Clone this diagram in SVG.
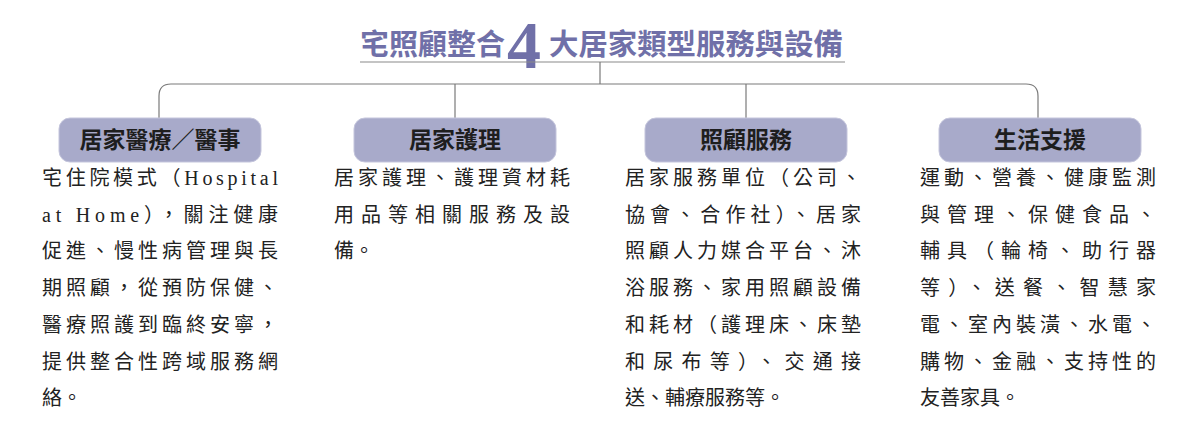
<svg xmlns="http://www.w3.org/2000/svg" width="1200" height="440" viewBox="0 0 1200 440">
<style>
.title{font-family:"Noto Sans CJK TC","Noto Sans CJK SC",sans-serif;font-size:29px;font-weight:700;fill:#7070a8}
.four{font-family:"Liberation Serif","DejaVu Serif",serif;font-size:68px;font-weight:700;fill:#7070a8}
.conn{fill:none;stroke:#7a7a7a;stroke-width:1.2}
.box{fill:#a8aaca;stroke:#c4c5dc;stroke-width:1}
.lbl{font-family:"Noto Sans CJK TC","Noto Sans CJK SC",sans-serif;font-size:23px;font-weight:700;fill:#1e1e1e;text-anchor:middle}
.body{font-family:"Liberation Serif","Noto Sans CJK TC","Noto Sans CJK SC",serif;font-size:20px;fill:#222}
</style>
<rect width="1200" height="440" fill="#ffffff"/>
<g id="title">
<text class="title" x="360" y="55" textLength="145" lengthAdjust="spacingAndGlyphs">宅照顧整合</text>
<text class="four" x="507" y="68">4</text>
<text class="title" x="549" y="55" textLength="294" lengthAdjust="spacingAndGlyphs">大居家類型服務與設備</text>
<line x1="360" y1="62" x2="845" y2="62" stroke="#8a8a8a" stroke-width="1.2"/>
</g>
<g id="connectors">
<path class="conn" d="M600 62 V84"/>
<path class="conn" d="M159 118 V96 Q159 84 171 84 H1026 Q1038 84 1038 96 V118"/>
<path class="conn" d="M455 84 V118"/>
<path class="conn" d="M746 84 V118"/>
</g>
<g id="node1">
<rect class="box" x="59" y="118" width="202" height="44" rx="11"/>
<text class="lbl" x="160" y="148">居家醫療／醫事</text>
<g class="body">
<text x="42" y="185" textLength="236" lengthAdjust="spacing">宅住院模式（Hospital</text>
<text x="42" y="221.7" textLength="236" lengthAdjust="spacing">at Home），關注健康</text>
<text x="42" y="258.4" textLength="236" lengthAdjust="spacing">促進、慢性病管理與長</text>
<text x="42" y="295.1" textLength="236" lengthAdjust="spacing">期照顧，從預防保健、</text>
<text x="42" y="331.8" textLength="236" lengthAdjust="spacing">醫療照護到臨終安寧，</text>
<text x="42" y="368.5" textLength="236" lengthAdjust="spacing">提供整合性跨域服務網</text>
<text x="42" y="405.2">絡。</text>
</g>
</g>
<g id="node2">
<rect class="box" x="354" y="118" width="202" height="44" rx="11"/>
<text class="lbl" x="455" y="148">居家護理</text>
<g class="body">
<text x="334" y="185" textLength="236" lengthAdjust="spacing">居家護理、護理資材耗</text>
<text x="334" y="221.7" textLength="236" lengthAdjust="spacing">用品等相關服務及設</text>
<text x="334" y="258.4">備。</text>
</g>
</g>
<g id="node3">
<rect class="box" x="645" y="118" width="202" height="44" rx="11"/>
<text class="lbl" x="746" y="148">照顧服務</text>
<g class="body">
<text x="625" y="185" textLength="236" lengthAdjust="spacing">居家服務單位（公司、</text>
<text x="625" y="221.7" textLength="236" lengthAdjust="spacing">協會、合作社）、居家</text>
<text x="625" y="258.4" textLength="236" lengthAdjust="spacing">照顧人力媒合平台、沐</text>
<text x="625" y="295.1" textLength="236" lengthAdjust="spacing">浴服務、家用照顧設備</text>
<text x="625" y="331.8" textLength="236" lengthAdjust="spacing">和耗材（護理床、床墊</text>
<text x="625" y="368.5" textLength="236" lengthAdjust="spacing">和尿布等）、交通接</text>
<text x="625" y="405.2">送、輔療服務等。</text>
</g>
</g>
<g id="node4">
<rect class="box" x="939" y="118" width="202" height="44" rx="11"/>
<text class="lbl" x="1040" y="148">生活支援</text>
<g class="body">
<text x="920" y="185" textLength="236" lengthAdjust="spacing">運動、營養、健康監測</text>
<text x="920" y="221.7" textLength="236" lengthAdjust="spacing">與管理、保健食品、</text>
<text x="920" y="258.4" textLength="236" lengthAdjust="spacing">輔具（輪椅、助行器</text>
<text x="920" y="295.1" textLength="236" lengthAdjust="spacing">等）、送餐、智慧家</text>
<text x="920" y="331.8" textLength="236" lengthAdjust="spacing">電、室內裝潢、水電、</text>
<text x="920" y="368.5" textLength="236" lengthAdjust="spacing">購物、金融、支持性的</text>
<text x="920" y="405.2">友善家具。</text>
</g>
</g>
</svg>
